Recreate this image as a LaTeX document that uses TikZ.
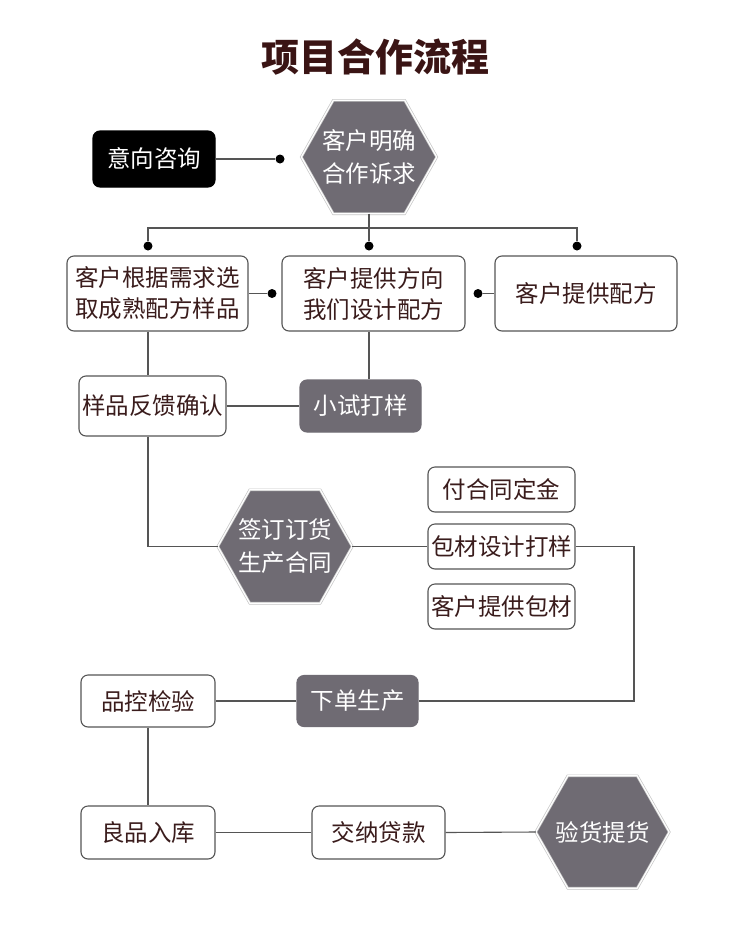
\documentclass[tikz,border=0pt]{standalone}
\usepackage{fontspec}
\setmainfont{Noto Sans CJK SC}
\usetikzlibrary{calc}
\pgfdeclarelayer{bg}
\pgfsetlayers{bg,main}
\definecolor{hexgray}{HTML}{6F6B73}
\definecolor{txtbrown}{HTML}{3A1C1C}
\definecolor{linegray}{HTML}{555555}
\definecolor{titlebrown}{HTML}{3A1414}
\newcommand\hexdraw[1]{%
  \path[hexshape] (#1.west) -- ([xshift=32pt]#1.north west) -- ([xshift=-32pt]#1.north east) -- (#1.east) -- ([xshift=-32pt]#1.south east) -- ([xshift=32pt]#1.south west) -- cycle;}
\begin{document}
\begin{tikzpicture}[x=1pt,y=-1pt,
  txt/.style={font=\fontsize{23.5}{31}\selectfont},
  box/.style={draw=linegray, line width=1.1pt, rounded corners=7pt, fill=white, text=txtbrown, txt, align=center, inner sep=0pt},
  graybox/.style={box, fill=hexgray, draw=hexgray, text=white},
  blackbox/.style={box, fill=black, draw=black, text=white},
  hexnode/.style={inner sep=0pt, text=white, align=center, font=\fontsize{23.5}{33}\selectfont},
  hexshape/.style={fill=hexgray, draw=gray!45, double=white, double distance=1.2pt, line width=0.7pt},
  conn/.style={draw=linegray, line width=1.1pt},
  dotnode/.style={circle, fill=black, inner sep=0pt, minimum size=9pt}]
\useasboundingbox (0,0) rectangle (750,946);

\node[font=\fontsize{38}{40}\selectfont\bfseries, text=titlebrown] (title) at (375,57) {项目合作流程};

\node[blackbox, minimum width=122pt, minimum height=56pt] (yx) at (154,159) {意向咨询};
\node[hexnode, minimum width=135pt, minimum height=113pt] (hex1) at (369,157) {客户明确\\合作诉求};
\node[dotnode] (d0) at (280,159) {};

\coordinate (hl) at (148,228);
\node[dotnode] (d1) at (148,246) {};
\node[dotnode] (d2) at (369,246) {};
\node[dotnode] (d3) at (577,246) {};

\node[box, minimum width=181pt, minimum height=75pt] (b1) at (157.5,293.5) {客户根据需求选\\取成熟配方样品};
\node[box, minimum width=183pt, minimum height=75pt] (b2) at (373.5,293.5) {客户提供方向\\我们设计配方};
\node[box, minimum width=182pt, minimum height=75pt] (b3) at (586,293.5) {客户提供配方};
\node[dotnode] (dl) at (272,293.5) {};
\node[dotnode] (dr) at (478,293.5) {};

\node[box, minimum width=147pt, minimum height=60pt] (b4) at (152.5,406) {样品反馈确认};
\node[graybox, minimum width=121pt, minimum height=52pt] (b5) at (360.5,406) {小试打样};

\node[hexnode, minimum width=134pt, minimum height=113pt] (hex2) at (285,546.5) {签订订货\\生产合同};
\node[box, minimum width=147pt, minimum height=45pt] (b6) at (501.5,489.5) {付合同定金};
\node[box, minimum width=147pt, minimum height=45pt] (b7) at (501.5,546.5) {包材设计打样};
\node[box, minimum width=147pt, minimum height=45pt] (b8) at (501.5,606.5) {客户提供包材};
\coordinate (rc) at (634,546.5);

\node[graybox, minimum width=121pt, minimum height=51pt] (b9) at (357.5,701) {下单生产};
\node[box, minimum width=134pt, minimum height=52pt] (b10) at (148,701) {品控检验};
\node[box, minimum width=134pt, minimum height=53pt] (b11) at (148,832.5) {良品入库};
\node[box, minimum width=133pt, minimum height=53pt] (b12) at (378.5,832.5) {交纳贷款};
\node[hexnode, minimum width=133pt, minimum height=112pt] (hex3) at (602.5,832) {验货提货};

\begin{pgfonlayer}{bg}
\fill[white] (0,0) rectangle (750,946);
\hexdraw{hex1}
\hexdraw{hex2}
\hexdraw{hex3}
\draw[conn] (yx.east) -- (d0);
\draw[conn] (hex1.south) -- (d2);
\draw[conn] (d1) -- (d1 |- hl) -- (d3 |- hl) -- (d3);
\draw[conn] (b1.east) -- (dl);
\draw[conn] (dr) -- (b3.west);
\draw[conn] (b1.south -| d1) -- (b4.north -| d1);
\draw[conn] (b2.south -| d2) -- (b5.north -| d2);
\draw[conn] (b4.east) -- (b5.west);
\draw[conn] (b4.south -| d1) |- (hex2.west);
\draw[conn] (hex2.east) -- (b7.west);
\draw[conn] (b7.east) -- (rc) |- (b9.east);
\draw[conn] (b9.west) -- (b10.east);
\draw[conn] (b10.south) -- (b11.north);
\draw[conn] (b11.east) -- (b12.west);
\draw[conn] (b12.east) -- (hex3.west);
\end{pgfonlayer}
\end{tikzpicture}
\end{document}
